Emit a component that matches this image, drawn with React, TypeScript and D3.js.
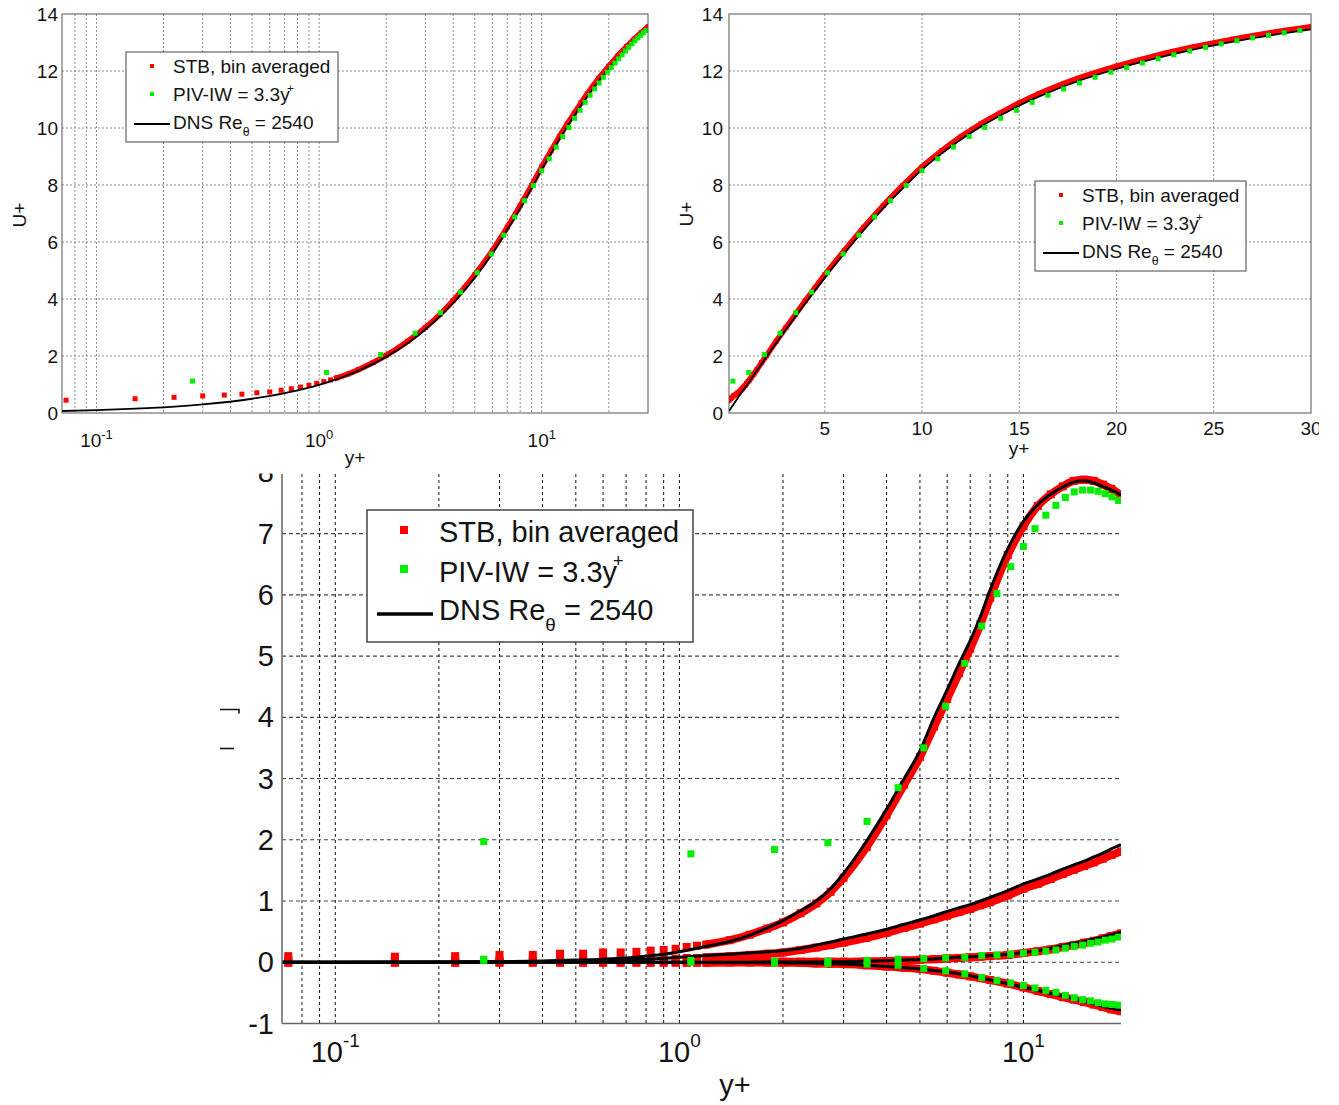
import React from "react";
import * as d3 from "d3";

const FONT = "'Liberation Sans', Arial, Helvetica, sans-serif";
const RED = "#ff0000";
const GREEN = "#00ee00";
const INK = "#141414";

// ---------- tick labels ----------
const LOG_TICKS = [0.1, 1, 10];
const LOG_TICK_EXP = ["-1", "0", "1"];
const U_TICKS = [0, 2, 4, 6, 8, 10, 12, 14];
const LIN_X_TICKS = [5, 10, 15, 20, 25, 30];
const BOT_Y_TICKS = [-1, 0, 1, 2, 3, 4, 5, 6, 7, 8];

// ---------- top charts: mean velocity U+ vs y+ ----------
const dnsYp = [0.07, 0.1, 0.15, 0.2, 0.3, 0.5, 0.7, 1.0, 1.5, 2.0, 2.5, 3.0, 3.5, 4.0, 4.5, 5.0, 6.0, 7.0, 8.0, 9.0, 10, 11, 12, 13, 14, 15, 16, 18, 20, 22, 24, 26, 28, 30];
const dnsU = [0.07, 0.1, 0.15, 0.2, 0.3, 0.5, 0.7, 0.99, 1.48, 1.97, 2.45, 2.93, 3.4, 3.86, 4.31, 4.75, 5.6, 6.42, 7.18, 7.88, 8.54, 9.1, 9.6, 10.04, 10.43, 10.79, 11.1, 11.64, 12.07, 12.44, 12.76, 13.03, 13.26, 13.46];

const stbYp = [0.073, 0.149, 0.223, 0.3, 0.375, 0.45, 0.525, 0.6, 0.675, 0.75, 0.825, 0.9, 0.975, 1.05, 1.125, 1.2, 1.35, 1.5, 1.75, 2.0, 2.5, 3.0, 3.5, 4.0, 4.5, 5.0, 6.0, 7.0, 8.0, 9.0, 10, 11, 12, 13, 14, 15, 16, 18, 20, 22, 24, 26, 28, 30];
const stbU = [0.45, 0.5, 0.55, 0.6, 0.63, 0.66, 0.71, 0.74, 0.8, 0.85, 0.91, 0.97, 1.04, 1.1, 1.16, 1.23, 1.37, 1.52, 1.77, 2.02, 2.52, 3.0, 3.47, 3.94, 4.4, 4.85, 5.7, 6.52, 7.28, 7.98, 8.64, 9.2, 9.7, 10.14, 10.52, 10.88, 11.2, 11.74, 12.17, 12.54, 12.85, 13.12, 13.35, 13.55];

const pivYp = [0.27, 1.08, 1.89, 2.7, 3.51, 4.32, 5.13, 5.94, 6.75, 7.56, 8.37, 9.18, 9.99, 10.8, 11.61, 12.42, 13.23, 14.04, 14.85, 15.66, 16.47, 17.28, 18.09, 18.9, 19.71, 20.52, 21.33, 22.14, 22.95, 23.76, 24.57, 25.38, 26.19, 27.0, 27.81, 28.62, 29.43];
const pivU = [1.12, 1.42, 2.05, 2.8, 3.52, 4.24, 4.92, 5.58, 6.24, 6.88, 7.45, 7.98, 8.5, 8.92, 9.33, 9.7, 10.02, 10.34, 10.62, 10.9, 11.15, 11.37, 11.58, 11.78, 11.96, 12.12, 12.28, 12.43, 12.57, 12.7, 12.83, 12.95, 13.06, 13.16, 13.25, 13.34, 13.42];

// ---------- bottom chart: Reynolds stresses vs y+ ----------
const dns2Yp = [0.07, 0.1, 0.2, 0.3, 0.4, 0.5, 0.6, 0.7, 0.8, 0.9, 1.0, 1.2, 1.4, 1.6, 1.8, 2.0, 2.25, 2.5, 2.75, 3.0, 3.5, 4.0, 4.5, 5.0, 5.5, 6.0, 6.5, 7.0, 7.5, 8.0, 9.0, 10, 11, 12, 13, 14, 15, 16, 17, 18, 19.2];
const dns2UU = [0, 0, 0.005, 0.012, 0.022, 0.035, 0.05, 0.07, 0.1, 0.13, 0.17, 0.26, 0.34, 0.44, 0.56, 0.68, 0.84, 1.0, 1.2, 1.45, 1.98, 2.5, 3.0, 3.45, 4.0, 4.45, 4.88, 5.25, 5.65, 6.08, 6.75, 7.2, 7.47, 7.64, 7.76, 7.84, 7.86, 7.83, 7.77, 7.71, 7.63];
const dns2WW = [0, 0, 0.003, 0.007, 0.012, 0.02, 0.028, 0.04, 0.05, 0.065, 0.08, 0.11, 0.13, 0.15, 0.17, 0.19, 0.23, 0.28, 0.33, 0.38, 0.46, 0.54, 0.62, 0.69, 0.76, 0.83, 0.89, 0.94, 1.0, 1.06, 1.17, 1.28, 1.36, 1.44, 1.52, 1.59, 1.65, 1.72, 1.78, 1.85, 1.92];
const dns2VV = [0, 0, 0, 0, 0, 0, 0, 0, 0, 0, 0.001, 0.001, 0.002, 0.002, 0.003, 0.003, 0.004, 0.005, 0.007, 0.01, 0.015, 0.025, 0.035, 0.045, 0.055, 0.07, 0.08, 0.09, 0.1, 0.11, 0.13, 0.16, 0.19, 0.23, 0.27, 0.31, 0.34, 0.38, 0.41, 0.45, 0.49];
const dns2UV = [0, 0, 0, 0, 0, 0, 0, 0, 0, 0, 0, -0.003, -0.004, -0.006, -0.008, -0.01, -0.013, -0.02, -0.025, -0.03, -0.05, -0.07, -0.09, -0.11, -0.135, -0.16, -0.19, -0.22, -0.255, -0.29, -0.35, -0.41, -0.46, -0.51, -0.55, -0.6, -0.64, -0.68, -0.72, -0.75, -0.78];

const stb2Yp = [0.073, 0.149, 0.223, 0.3, 0.375, 0.45, 0.525, 0.6, 0.675, 0.75, 0.825, 0.9, 0.975, 1.05, 1.125, 1.2, 1.4, 1.6, 1.8, 2.0, 2.25, 2.5, 2.75, 3.0, 3.5, 4.0, 4.5, 5.0, 5.5, 6.0, 6.5, 7.0, 7.5, 8.0, 9.0, 10, 11, 12, 13, 14, 15, 16, 17, 18, 19.2];
const stb2UU = [0.1, 0.09, 0.1, 0.12, 0.12, 0.14, 0.14, 0.16, 0.16, 0.17, 0.19, 0.2, 0.22, 0.25, 0.27, 0.29, 0.36, 0.45, 0.55, 0.65, 0.8, 0.96, 1.15, 1.38, 1.88, 2.4, 2.9, 3.35, 3.85, 4.3, 4.72, 5.12, 5.52, 5.95, 6.65, 7.12, 7.45, 7.64, 7.77, 7.86, 7.88, 7.86, 7.8, 7.73, 7.63];
const stb2WW = [0.03, 0.03, 0.03, 0.03, 0.03, 0.03, 0.04, 0.04, 0.04, 0.05, 0.05, 0.06, 0.06, 0.07, 0.07, 0.08, 0.1, 0.12, 0.14, 0.16, 0.2, 0.24, 0.28, 0.32, 0.4, 0.48, 0.56, 0.63, 0.7, 0.76, 0.82, 0.87, 0.93, 0.98, 1.09, 1.2, 1.28, 1.36, 1.44, 1.51, 1.57, 1.63, 1.69, 1.75, 1.81];
const stb2VV = [0.01, 0.01, 0.01, 0.01, 0.01, 0.01, 0.01, 0.01, 0.01, 0.01, 0.01, 0.01, 0.01, 0.01, 0.01, 0.01, 0.01, 0.01, 0.01, 0.01, 0.01, 0.01, 0.01, 0.01, 0.015, 0.02, 0.03, 0.04, 0.05, 0.06, 0.07, 0.08, 0.09, 0.1, 0.12, 0.15, 0.18, 0.21, 0.25, 0.28, 0.32, 0.35, 0.39, 0.43, 0.47];
const stb2UV = [-0.01, -0.01, -0.01, -0.01, -0.01, -0.01, -0.01, -0.01, -0.01, -0.01, -0.01, -0.01, -0.01, -0.01, -0.01, -0.01, -0.005, -0.005, -0.005, -0.008, -0.01, -0.02, -0.025, -0.03, -0.05, -0.07, -0.09, -0.11, -0.14, -0.17, -0.2, -0.23, -0.26, -0.29, -0.35, -0.41, -0.47, -0.52, -0.57, -0.61, -0.65, -0.69, -0.73, -0.77, -0.8];

const piv2Yp = [0.27, 1.08, 1.89, 2.7, 3.51, 4.32, 5.13, 5.94, 6.75, 7.56, 8.37, 9.18, 9.99, 10.8, 11.61, 12.42, 13.23, 14.04, 14.85, 15.66, 16.47, 17.28, 18.09, 18.9];
const piv2UU = [1.97, 1.77, 1.84, 1.95, 2.3, 2.85, 3.5, 4.18, 4.88, 5.49, 6.02, 6.46, 6.79, 7.08, 7.3, 7.46, 7.59, 7.68, 7.71, 7.71, 7.69, 7.65, 7.6, 7.54];
const piv2VV = [0.05, 0.03, 0.02, 0.02, 0.03, 0.05, 0.06, 0.07, 0.08, 0.11, 0.12, 0.13, 0.15, 0.16, 0.18, 0.2, 0.23, 0.26, 0.28, 0.31, 0.33, 0.36, 0.38, 0.41];
const piv2UV = [0.03, 0.0, -0.01, -0.02, -0.03, -0.05, -0.1, -0.14, -0.19, -0.25, -0.3, -0.34, -0.38, -0.42, -0.46, -0.49, -0.54, -0.58, -0.61, -0.63, -0.66, -0.68, -0.69, -0.7];

type P = [number, number];
const zip = (xs: number[], ys: number[]): P[] => xs.map((x, i) => [x, ys[i]] as P);

function Legend(p: any) {
  const { bx, by, bw, bh, fs, mx, my1, my2, ms, tx, b1, b2, b3, lx1, lx2, ly, lw, bsw } = p;
  return (
    <g>
      <rect x={bx} y={by} width={bw} height={bh} fill="#fff" stroke="#444" strokeWidth={bsw} />
      <rect x={mx - ms / 2} y={my1 - ms / 2} width={ms} height={ms} fill={RED} />
      <text x={tx} y={b1} fontSize={fs} fill={INK}>STB, bin averaged</text>
      <rect x={mx - ms / 2} y={my2 - ms / 2} width={ms} height={ms} fill={GREEN} />
      <text x={tx} y={b2} fontSize={fs} fill={INK}>
        PIV-IW = 3.3y
        <tspan fontSize={fs * 0.62} dx={-fs * 0.14} dy={-fs * 0.5}>+</tspan>
      </text>
      <line x1={lx1} x2={lx2} y1={ly} y2={ly} stroke="#000" strokeWidth={lw} />
      <text x={tx} y={b3} fontSize={fs} fill={INK}>
        DNS Re
        <tspan fontSize={fs * 0.65} dy={fs * 0.38}>θ</tspan>
        <tspan fontSize={fs} dy={-fs * 0.38}>{"\u00a0= 2540"}</tspan>
      </text>
    </g>
  );
}

function LogLabel({ x, y, exp, fs, sfs, rise }: any) {
  return (
    <text x={x} y={y} textAnchor="middle" fontSize={fs} fill={INK}>
      10
      <tspan fontSize={sfs} dy={-rise}>{exp}</tspan>
    </text>
  );
}

function Squares({ pts, xs, ys, s, fill }: any) {
  return (
    <g fill={fill}>
      {pts.map((d: P, i: number) => (
        <rect key={i} x={xs(d[0]) - s / 2} y={ys(d[1]) - s / 2} width={s} height={s} />
      ))}
    </g>
  );
}

export default function App() {
  // ----- scales -----
  const xTL = d3.scaleLog().domain([0.07, 30]).range([62, 648]);
  const yTL = d3.scaleLinear().domain([0, 14]).range([413, 14]);
  const xTR = d3.scaleLinear().domain([0.07, 30]).range([729, 1311]);
  const yTR = d3.scaleLinear().domain([0, 14]).range([413, 14]);
  const xB = d3.scaleLog().domain([0.07, 19.2]).range([282, 1121]);
  const yB = d3.scaleLinear().domain([-1, 8]).range([1023.5, 472.3]);

  const mkLine = (xs: any, ys: any) =>
    d3.line<P>().x((d) => xs(d[0])).y((d) => ys(d[1])).curve(d3.curveMonotoneX);

  const dns = zip(dnsYp, dnsU);
  const stb = zip(stbYp, stbU);
  const piv = zip(pivYp, pivU);

  const lineTL = mkLine(xTL, yTL);
  const lineTR = mkLine(xTR, yTR);
  const lineB = mkLine(xB, yB);

  const stbDenseTL = stb.filter((d) => d[0] >= 1.2);

  const dns2 = [dns2UU, dns2WW, dns2VV, dns2UV].map((a) => zip(dns2Yp, a));
  const stb2 = [stb2UU, stb2WW, stb2VV, stb2UV].map((a) => zip(stb2Yp, a));
  const piv2 = [piv2UU, piv2VV, piv2UV].map((a) => zip(piv2Yp, a));

  const gridTop = { stroke: "#8a8a8a", strokeWidth: 1, strokeDasharray: "2,2" };
  const tlMinor = xTL.ticks().filter((t) => t > 0.0705 && t < 29.5);
  const bMinor = xB.ticks().filter((t) => t > 0.0705 && t < 19.1);

  return (
    <svg
      width={1339}
      height={1105}
      style={{ position: "absolute", left: 0, top: 0, background: "#fff" }}
      fontFamily={FONT}
    >
      <defs>
        <clipPath id="cTL"><rect x={62} y={14} width={586} height={399} /></clipPath>
        <clipPath id="cTR"><rect x={729} y={14} width={582} height={399} /></clipPath>
        <clipPath id="cB"><rect x={282} y={474} width={839} height={549.5} /></clipPath>
        <clipPath id="cBall"><rect x={0} y={473.5} width={1339} height={640} /></clipPath>
        <clipPath id="cRight"><rect x={0} y={0} width={1319} height={1105} /></clipPath>
      </defs>
      <rect x={0} y={0} width={1339} height={1105} fill="#fff" />

      {/* ================= TOP LEFT ================= */}
      <g>
        {tlMinor.map((t, i) => (
          <line key={"tlv" + i} x1={xTL(t)} x2={xTL(t)} y1={14} y2={413} {...gridTop} />
        ))}
        {U_TICKS.filter((t) => t > 0 && t < 14).map((t) => (
          <line key={"tlh" + t} x1={62} x2={648} y1={yTL(t)} y2={yTL(t)} {...gridTop} />
        ))}
        <g clipPath="url(#cTL)">
          <path d={lineTL(stbDenseTL) || ""} fill="none" stroke={RED} strokeWidth={5.5} strokeLinejoin="round" strokeLinecap="square" />
          <Squares pts={stb} xs={xTL} ys={yTL} s={5} fill={RED} />
          <path d={lineTL(dns) || ""} fill="none" stroke="#000" strokeWidth={1.8} />
          <Squares pts={piv} xs={xTL} ys={yTL} s={5} fill={GREEN} />
        </g>
        <rect x={62} y={14} width={586} height={399} fill="none" stroke="#555" strokeWidth={1} />
        {U_TICKS.map((t) => (
          <text key={"tly" + t} x={58} y={yTL(t) + 7} textAnchor="end" fontSize={19} fill={INK}>{t}</text>
        ))}
        {LOG_TICKS.map((t, i) => (
          <LogLabel key={"tlx" + t} x={xTL(t)} y={447} exp={LOG_TICK_EXP[i]} fs={19} sfs={13} rise={8} />
        ))}
        <text x={355} y={464} textAnchor="middle" fontSize={19} fill={INK}>y+</text>
        <text x={26} y={215} textAnchor="middle" fontSize={19} fill={INK} transform="rotate(-90 26 215)">U+</text>
        <Legend bx={126} by={52} bw={212} bh={90} fs={19} mx={152} my1={66} my2={94} ms={4} tx={173} b1={73} b2={101} b3={128.5} lx1={134} lx2={170} ly={124} lw={1.8} bsw={1} />
      </g>

      {/* ================= TOP RIGHT ================= */}
      <g clipPath="url(#cRight)">
        {LIN_X_TICKS.filter((t) => t < 30).map((t) => (
          <line key={"trv" + t} x1={xTR(t)} x2={xTR(t)} y1={14} y2={413} {...gridTop} />
        ))}
        {U_TICKS.filter((t) => t > 0 && t < 14).map((t) => (
          <line key={"trh" + t} x1={729} x2={1311} y1={yTR(t)} y2={yTR(t)} {...gridTop} />
        ))}
        <g clipPath="url(#cTR)">
          <path d={lineTR(stb) || ""} fill="none" stroke={RED} strokeWidth={5.5} strokeLinejoin="round" strokeLinecap="square" />
          <Squares pts={stb} xs={xTR} ys={yTR} s={5} fill={RED} />
          <path d={lineTR(dns) || ""} fill="none" stroke="#000" strokeWidth={1.8} />
          <Squares pts={piv} xs={xTR} ys={yTR} s={5} fill={GREEN} />
        </g>
        <rect x={729} y={14} width={582} height={399} fill="none" stroke="#555" strokeWidth={1} />
        {U_TICKS.map((t) => (
          <text key={"try" + t} x={723} y={yTR(t) + 7} textAnchor="end" fontSize={19} fill={INK}>{t}</text>
        ))}
        {LIN_X_TICKS.map((t) => (
          <text key={"trx" + t} x={xTR(t)} y={435} textAnchor="middle" fontSize={19} fill={INK}>{t}</text>
        ))}
        <text x={1019} y={455} textAnchor="middle" fontSize={19} fill={INK}>y+</text>
        <text x={693} y={214} textAnchor="middle" fontSize={19} fill={INK} transform="rotate(-90 693 214)">U+</text>
        <Legend bx={1035} by={181} bw={211} bh={90} fs={19} mx={1061} my1={195} my2={223} ms={4} tx={1082} b1={202} b2={230} b3={257.5} lx1={1043} lx2={1079} ly={253} lw={1.8} bsw={1} />
      </g>

      {/* ================= BOTTOM ================= */}
      <g clipPath="url(#cBall)">
        {bMinor.map((t, i) => (
          <line key={"bv" + i} x1={xB(t)} x2={xB(t)} y1={474} y2={1023} stroke="#111" strokeWidth={1} strokeDasharray="3,3" />
        ))}
        {BOT_Y_TICKS.filter((t) => t > -1).map((t) => (
          <line key={"bh" + t} x1={282} x2={1121} y1={yB(t)} y2={yB(t)} stroke="#444" strokeWidth={1.2} strokeDasharray="4,3" />
        ))}
        <g clipPath="url(#cB)">
          {stb2.map((s, k) => (
            <g key={"stb" + k}>
              <path d={lineB(s.filter((d) => d[0] >= 1.2)) || ""} fill="none" stroke={RED} strokeWidth={8} strokeLinejoin="round" strokeLinecap="square" />
              <Squares pts={s} xs={xB} ys={yB} s={8} fill={RED} />
            </g>
          ))}
          {dns2.map((s, k) => (
            <path key={"dns" + k} d={lineB(s) || ""} fill="none" stroke="#000" strokeWidth={3} />
          ))}
          {piv2.map((s, k) => (
            <Squares key={"piv" + k} pts={s} xs={xB} ys={yB} s={7} fill={GREEN} />
          ))}
        </g>
        <line x1={282} x2={282} y1={474} y2={1023.5} stroke="#666" strokeWidth={1.5} />
        <line x1={282} x2={1121} y1={1023.5} y2={1023.5} stroke="#666" strokeWidth={1.5} />
        {BOT_Y_TICKS.map((t) => (
          <text key={"by" + t} x={274} y={yB(t) + 10} textAnchor="end" fontSize={29} fill={INK}>{t}</text>
        ))}
        {LOG_TICKS.map((t, i) => (
          <LogLabel key={"bx" + t} x={xB(t)} y={1062} exp={LOG_TICK_EXP[i]} fs={29} sfs={19} rise={15} />
        ))}
        <text x={735} y={1095} textAnchor="middle" fontSize={29} fill={INK}>y+</text>
        <path d="M220,709.5 L239,709.5 L239,713.5" fill="none" stroke={INK} strokeWidth={1.6} />
        <path d="M220,748.5 L234,748.5" fill="none" stroke={INK} strokeWidth={1.6} />
        <Legend bx={367} by={510} bw={326} bh={132} fs={29} mx={404} my1={530} my2={569} ms={8} tx={439} b1={541.7} b2={581.5} b3={620} lx1={377} lx2={433} ly={614} lw={3.5} bsw={1.5} />
      </g>
    </svg>
  );
}
